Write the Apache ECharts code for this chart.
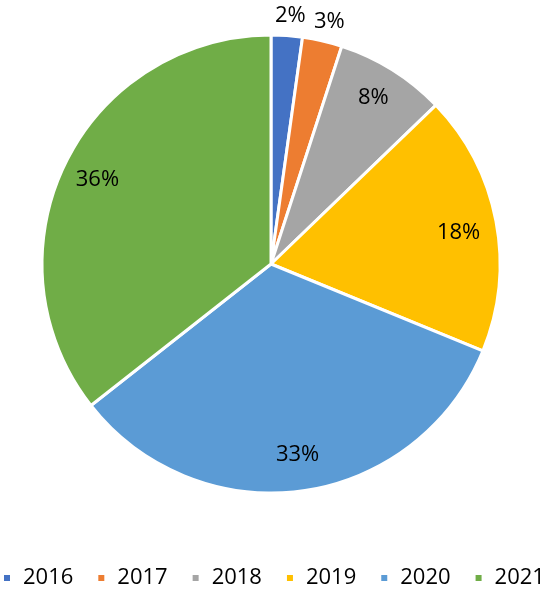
<!DOCTYPE html>
<html><head><meta charset="utf-8">
<script src="https://cdn.jsdelivr.net/npm/echarts@6/dist/echarts.min.js"></script>
<style>html,body{margin:0;padding:0;background:#fff}#c{width:551px;height:599px}</style>
</head><body><div id="c"></div>
<script>
const categories = ['2016','2017','2018','2019','2020','2021'];
const values = [2.2, 2.8, 7.8, 18.4, 33.2, 35.6];
const colors = ['#4472C4','#ED7D31','#A5A5A5','#FFC000','#5B9BD5','#70AD47'];
const font = '"Open Sans", "Liberation Sans", sans-serif';

const data = categories.map((c,i)=>({name:c, value:values[i], itemStyle:{color:colors[i]}}));
const chart = echarts.init(document.getElementById('c'));
chart.setOption({
  animation:false,
  legend:{top:567, left:2, width:600, padding:0, itemWidth:8, itemHeight:8, itemGap:23, icon:'rect',
    textStyle:{fontFamily:font, fontSize:22, color:'#000', padding:[0,0,0,7]}, data:categories},
  series:[
    {type:'pie', center:[271,264], radius:229, startAngle:90, clockwise:true,
     itemStyle:{borderColor:'#fff', borderWidth:3}, label:{show:false}, labelLine:{show:false},
     data:data, silent:true},
    {type:'pie', center:[271,264], radius:[0,380], startAngle:90, clockwise:true,
     itemStyle:{color:'rgba(0,0,0,0)', borderWidth:0}, silent:true, labelLine:{show:false},
     legendHoverLink:false,
     label:{show:true, position:'inside', fontFamily:font, fontSize:22, color:'#000',
       formatter:p=>Math.round(p.value)+'%'},
     labelLayout:function(p){
       if(p.dataIndex===0) return {dx:6, dy:-56};
       if(p.dataIndex===1) return {dx:15, dy:-54};
       if(p.dataIndex===2) return {dx:0, dy:-3};
       if(p.dataIndex===3) return {dx:-2, dy:5};
       return {};
     },
     data:categories.map((c,i)=>({name:'l'+c, value:values[i]}))}
  ]
});
</script></body></html>
